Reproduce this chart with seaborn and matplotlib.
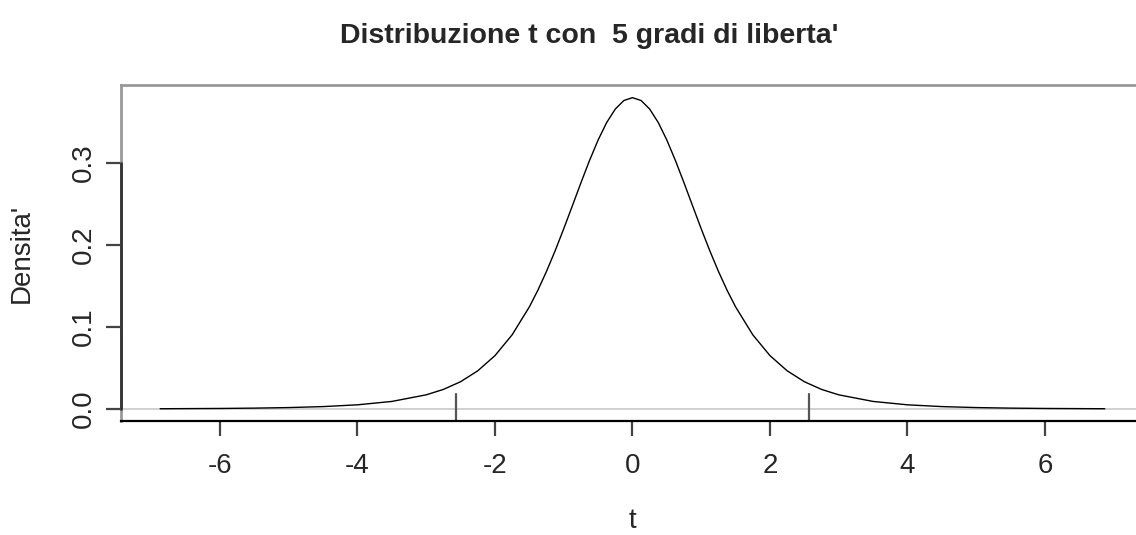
import numpy as np
import pandas as pd
import matplotlib
matplotlib.use("Agg")
import matplotlib.pyplot as plt
import seaborn as sns

# -----------------------------
# Data (t density, 5 df)
# -----------------------------
t_values = [-6.87, -6.0, -5.5, -5.0, -4.5, -4.0, -3.5, -3.0, -2.75, -2.5,
            -2.25, -2.0, -1.75, -1.5, -1.375, -1.25, -1.125, -1.0, -0.875,
            -0.75, -0.625, -0.5, -0.375, -0.25, -0.125, 0.0,
            0.125, 0.25, 0.375, 0.5, 0.625, 0.75, 0.875, 1.0, 1.125, 1.25,
            1.375, 1.5, 1.75, 2.0, 2.25, 2.5, 2.75, 3.0, 3.5, 4.0, 4.5,
            5.0, 5.5, 6.0, 6.87]
density = [0.00033, 0.00069, 0.00108, 0.00176, 0.00295, 0.00512, 0.00924,
           0.0173, 0.0239, 0.0333, 0.0466, 0.0651, 0.0905, 0.1245, 0.1450,
           0.1679, 0.1929, 0.2197, 0.2476, 0.2757, 0.3029, 0.3279, 0.3493,
           0.3657, 0.3761, 0.3796,
           0.3761, 0.3657, 0.3493, 0.3279, 0.3029, 0.2757, 0.2476, 0.2197,
           0.1929, 0.1679, 0.1450, 0.1245, 0.0905, 0.0651, 0.0466, 0.0333,
           0.0239, 0.0173, 0.00924, 0.00512, 0.00295, 0.00176, 0.00108,
           0.00069, 0.00033]
critical_t = [-2.5706, 2.5706]
x_ticks = [-6, -4, -2, 0, 2, 4, 6]
y_ticks = [0.0, 0.1, 0.2, 0.3]
y_tick_labels = ["0.0", "0.1", "0.2", "0.3"]

df = pd.DataFrame({"t": t_values, "density": density})

# -----------------------------
# Plot
# -----------------------------
sns.set_style("white")
plt.rcParams["font.family"] = ["Liberation Sans", "DejaVu Sans"]

fig = plt.figure(figsize=(11.36, 5.35), dpi=100)
ax = fig.add_axes([0.1065, 0.2131, 0.9005, 0.628])

ax.axhline(0, color="#c8c8c8", lw=1.2, zorder=1)
sns.lineplot(data=df, x="t", y="density", color="black", lw=1.0, ax=ax, zorder=3)
for c in critical_t:
    ax.plot([c, c], [-0.0146, 0.018], color="#555555", lw=1.6, zorder=2)

ax.set_xlim(-7.44, 7.44)
ax.set_ylim(-0.0146, 0.395)

for side in ["top", "left", "right"]:
    ax.spines[side].set_color("#999999")
    ax.spines[side].set_linewidth(2.0)
ax.spines["bottom"].set_color("black")
ax.spines["bottom"].set_linewidth(1.6)
# black axis segment along the y ticks
ax.plot([-7.44, -7.44], [0.0, 0.3], color="#333333", lw=2.0, clip_on=False, zorder=4)

ax.set_xticks(x_ticks)
ax.set_xticklabels([str(v) for v in x_ticks])
ax.set_yticks(y_ticks)
ax.set_yticklabels(y_tick_labels, rotation=90, va="center")
ax.tick_params(axis="both", bottom=True, left=True, direction="out",
               length=11, width=1.6, color="#444444", labelsize=20)
ax.tick_params(axis="x", pad=12)
ax.tick_params(axis="y", pad=6)

ax.set_xlabel("t", fontsize=20)
ax.xaxis.set_label_coords(0.5, -0.298)
ax.xaxis.label.set_va("center")
ax.set_ylabel("Densita'", fontsize=20)
ax.yaxis.set_label_coords(-0.097, 0.5)
ax.yaxis.label.set_va("center")
fig.suptitle("Distribuzione t con  5 gradi di liberta'", fontsize=20.5,
             fontweight="bold", x=0.519, y=0.933, va="center")

fig.savefig("out.png", dpi=100)
plt.close(fig)
